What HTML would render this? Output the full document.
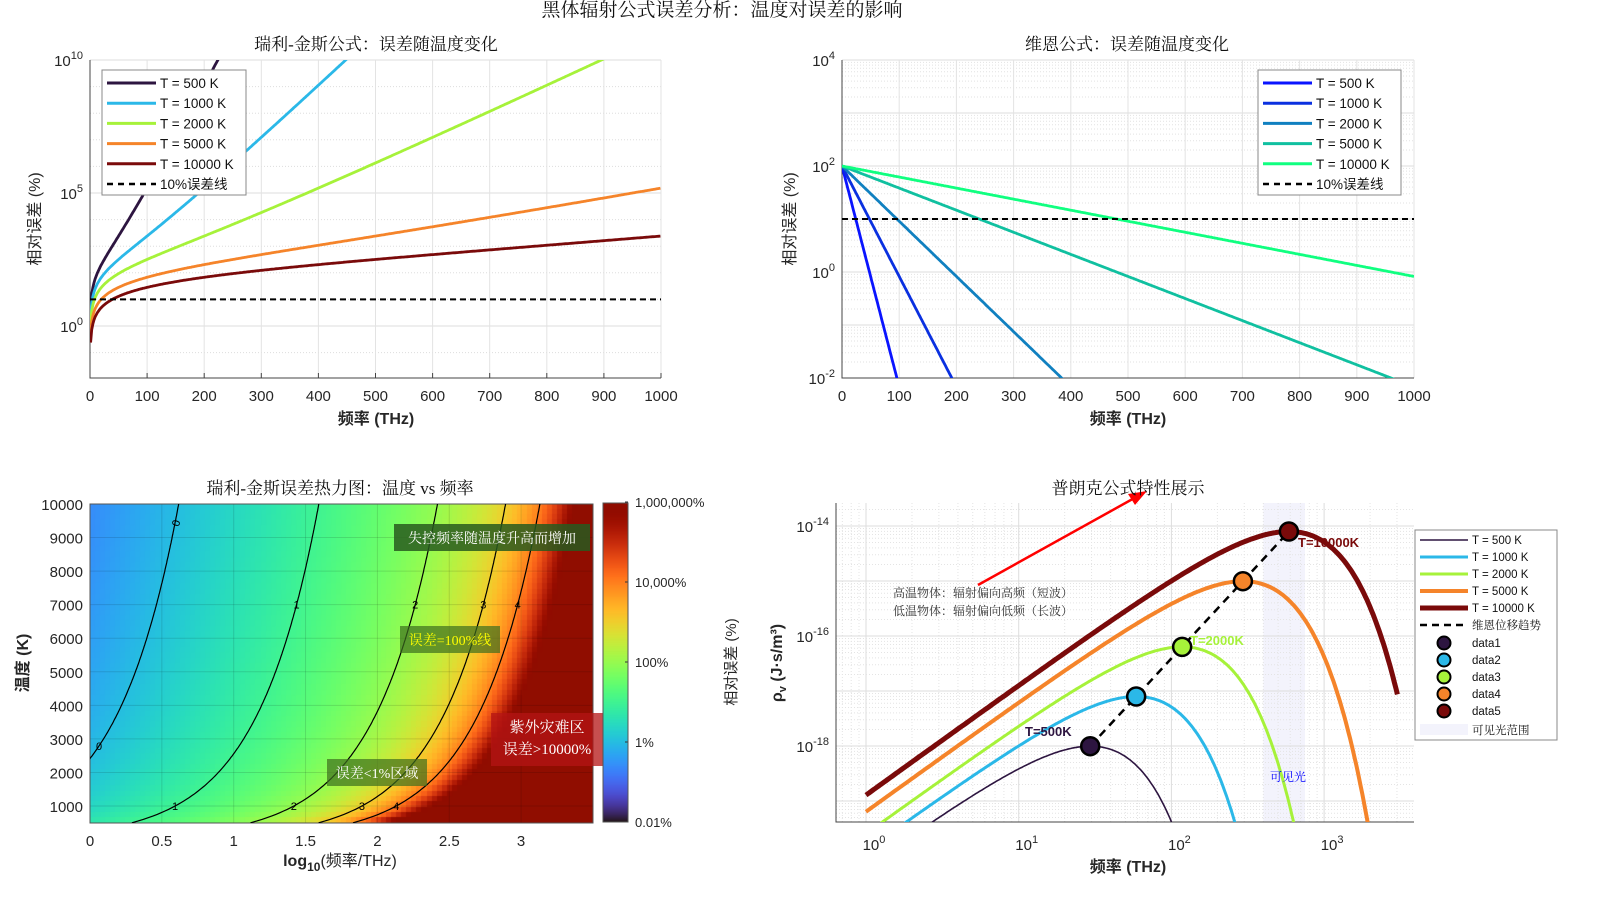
<!DOCTYPE html>
<html><head><meta charset="utf-8">
<style>
html,body{margin:0;padding:0;background:#fff;width:1605px;height:915px;overflow:hidden;}
#root{position:absolute;left:0;top:0;width:1605px;height:915px;overflow:hidden;font-family:"Liberation Sans","Noto Sans CJK SC",sans-serif;}
#hm{position:absolute;left:90px;top:504px;display:block;}
#cb{position:absolute;left:603px;top:503px;display:block;}
#s{position:absolute;left:0;top:0;display:block;overflow:hidden;}
text{font-family:"Liberation Sans","Noto Sans CJK SC",sans-serif;}
.serif{font-family:"Liberation Serif","Noto Serif CJK SC",serif;}
</style></head>
<body>
<div id="root">
<canvas id="hm" width="503" height="319"></canvas>
<canvas id="cb" width="25" height="319"></canvas>
<svg id="s" width="1605" height="915" viewBox="0 0 1605 915" xmlns="http://www.w3.org/2000/svg"></svg>
</div>
<script>
// ===== data =====
const temps = [500, 1000, 2000, 5000, 10000];
const tempLabels = ['T = 500 K','T = 1000 K','T = 2000 K','T = 5000 K','T = 10000 K'];
const rjColors = ['#2d1540','#2bb8e8','#a6f23a','#f5842a','#7a0a0a'];
const wienColors = ['#0a14ff','#0a30e0','#1080c0','#10c0a0','#10ff80'];
const refErrorPct = [10];
const contourLevels = [0,1,2,3,4];
const tlXTicks = [0,100,200,300,400,500,600,700,800,900,1000];
const tlYTicks = [0,5,10];
const trYTicks = [-2,0,2,4];
const blXTicks = [0,0.5,1,1.5,2,2.5,3];
const blYTicks = [1000,2000,3000,4000,5000,6000,7000,8000,9000,10000];
const cbTicks = [-2,0,2,4,6];
const cbLabels = ['0.01%','1%','100%','10,000%','1,000,000%'];
const brXTicks = [0,1,2,3];
const brYTicks = [-18,-16,-14];
const visibleBand = [400, 750];

const h=6.626e-34, kB=1.381e-23, c=3e8;
const xOf=(nuTHz,T)=>h*nuTHz*1e12/(kB*T);
const rjErr=(x)=>100*(Math.expm1(x)/x-1);
const wienErr=(x)=>100*Math.exp(-x);
const planck=(nuTHz,T)=>{const n=nuTHz*1e12;return 8*Math.PI*h*n*n*n/(c*c*c)/Math.expm1(h*n/(kB*T));};

const S=document.getElementById('s');
const NS='http://www.w3.org/2000/svg';
function mk(tag,at,parent){const e=document.createElementNS(NS,tag);for(const k in at)e.setAttribute(k,at[k]);(parent||S).appendChild(e);return e;}
function txt(x,y,s,at,parent){const e=mk('text',Object.assign({x:x,y:y},at||{}),parent);e.textContent=s;return e;}
function pow10(x,y,exp,anchor,size){const t=mk('text',{x:x,y:y,'font-size':size||15,'text-anchor':anchor||'end',fill:'#262626'});
 const a=document.createElementNS(NS,'tspan');a.textContent='10';t.appendChild(a);
 const b=document.createElementNS(NS,'tspan');b.setAttribute('dy','-7');b.setAttribute('font-size','11');b.textContent=exp;t.appendChild(b);return t;}
function path(pts){return pts.map((p,i)=>(i?'L':'M')+p[0].toFixed(1)+','+p[1].toFixed(1)).join('');}

let e;
e=txt(722,16,'黑体辐射公式误差分析：温度对误差的影响',{'text-anchor':'middle','font-size':19,fill:'#111',class:'serif'});



// ===== Top-left: Rayleigh-Jeans =====
const tlX=v=>90+v*0.571, tlY=l=>326-l*26.6;
let clip=mk('clipPath',{id:'ctl'});mk('rect',{x:90,y:60,width:571,height:318},clip);
for(let d=-1;d<=10;d++){e=mk('line',{x1:90,x2:661,y1:tlY(d),y2:tlY(d),stroke:'#ddd','stroke-width':1,'stroke-dasharray':tlYTicks.includes(d)?'':'1,2'});}
tlXTicks.forEach(v=>{e=mk('line',{x1:tlX(v),x2:tlX(v),y1:60,y2:378,stroke:'#e3e3e3'});
 e=txt(tlX(v),401,String(v),{'text-anchor':'middle','font-size':15,fill:'#262626'});
 e=mk('line',{x1:tlX(v),x2:tlX(v),y1:378,y2:373,stroke:'#444'});});
tlYTicks.forEach(l=>{e=pow10(83,tlY(l)+6,String(l));});
e=mk('path',{d:'M90,60V378H661',fill:'none',stroke:'#444'});
const tlG=mk('g',{'clip-path':'url(#ctl)'});
temps.forEach((T,i)=>{const pts=[];for(let v=1;v<=1000;v+=2){const yy=tlY(Math.log10(rjErr(xOf(v,T))));pts.push([tlX(v),yy]);if(yy<50)break;}
 e=mk('path',{d:path(pts),fill:'none',stroke:rjColors[i],'stroke-width':2.8},tlG);});
e=mk('line',{x1:90,x2:661,y1:tlY(Math.log10(refErrorPct[0])),y2:tlY(Math.log10(refErrorPct[0])),stroke:'#000','stroke-width':2,'stroke-dasharray':'6,4'},tlG);
e=txt(376,50,'瑞利-金斯公式：误差随温度变化',{'text-anchor':'middle','font-size':17,fill:'#111',class:'serif'});
e=txt(376,424,'频率 (THz)',{'text-anchor':'middle','font-size':16,fill:'#262626','font-weight':'bold'});
e=txt(0,0,'相对误差 (%)',{'text-anchor':'middle','font-size':16,fill:'#262626',transform:'translate(40,219) rotate(-90)'});
function legend(x,y,w,labels,colors,lastLabel,name,lw){
 const g=mk('g',{});
 mk('rect',{x:x,y:y,width:w,height:125,fill:'#fff',stroke:'#888'},g);
 labels.forEach((s,i)=>{const yy=y+13+i*20.2;mk('line',{x1:x+5,x2:x+54,y1:yy,y2:yy,stroke:colors[i],'stroke-width':lw||3},g);
  txt(x+58,yy+5,s,{'font-size':13.5,fill:'#111'},g);});
 const yy=y+13+5*20.2;mk('line',{x1:x+5,x2:x+54,y1:yy,y2:yy,stroke:'#000','stroke-width':2.5,'stroke-dasharray':'6,5'},g);
 txt(x+58,yy+5,lastLabel,{'font-size':13.5,fill:'#111'},g);return g;}
legend(102,70,144,tempLabels,rjColors,'10%误差线','tl-legend');

// ===== Top-right: Wien =====
const trX=v=>842+v*0.572, trY=l=>272-l*53;
clip=mk('clipPath',{id:'ctr'});mk('rect',{x:842,y:60,width:572,height:318},clip);
for(let d=-2;d<4;d++)for(let k=1;k<10;k++){const yy=trY(d+Math.log10(k));e=mk('line',{x1:842,x2:1414,y1:yy,y2:yy,stroke:k==1?'#ddd':'#e2e2e2','stroke-dasharray':k==1?'':'1,2'});}
e=mk('line',{x1:842,x2:1414,y1:60,y2:60,stroke:'#ddd'});
tlXTicks.forEach(v=>{e=mk('line',{x1:trX(v),x2:trX(v),y1:60,y2:378,stroke:'#e3e3e3'});
 e=txt(trX(v),401,String(v),{'text-anchor':'middle','font-size':15,fill:'#262626'});});
trYTicks.forEach(l=>{e=pow10(835,trY(l)+6,String(l));});
e=mk('path',{d:'M842,60V378H1414',fill:'none',stroke:'#444'});
const trG=mk('g',{'clip-path':'url(#ctr)'});
temps.forEach((T,i)=>{const pts=[];for(let v=0;v<=1000;v+=2){const l=Math.log10(wienErr(xOf(v,T)));pts.push([trX(v),trY(l)]);if(trY(l)>390)break;}
 e=mk('path',{d:path(pts),fill:'none',stroke:wienColors[i],'stroke-width':2.8},trG);});
e=mk('line',{x1:842,x2:1414,y1:trY(Math.log10(refErrorPct[0])),y2:trY(Math.log10(refErrorPct[0])),stroke:'#000','stroke-width':2,'stroke-dasharray':'6,4'},trG);
e=txt(1127,50,'维恩公式：误差随温度变化',{'text-anchor':'middle','font-size':17,fill:'#111',class:'serif'});
e=txt(1128,424,'频率 (THz)',{'text-anchor':'middle','font-size':16,fill:'#262626','font-weight':'bold'});
e=txt(0,0,'相对误差 (%)',{'text-anchor':'middle','font-size':16,fill:'#262626',transform:'translate(795,219) rotate(-90)'});
legend(1258,70,143,tempLabels,wienColors,'10%误差线','tr-legend');

// ===== Bottom-left: heatmap =====
function turbo(t){t=Math.max(0,Math.min(1,t));
 const r=0.13572138+t*(4.61539260+t*(-42.66032258+t*(132.13108234+t*(-152.94239396+t*59.28637943))));
 const g=0.09140261+t*(2.19418839+t*(4.84296658+t*(-14.18503333+t*(4.27729857+t*2.82956604))));
 const b=0.10667330+t*(12.64194608+t*(-60.58204836+t*(110.36276771+t*(-89.90310912+t*27.34824973))));
 return 'rgb('+[r,g,b].map(v=>Math.round(Math.max(0,Math.min(1,v))*255)).join(',')+')';}
const blX=l=>90+l*143.7, blY=T=>806-(T-1000)*0.03356;
(function(){const cv=document.getElementById('hm').getContext('2d');const W=503,H=319,nx=100,ny=60;
 for(let i=0;i<nx;i++)for(let j=0;j<ny;j++){const l=3.5*(i+0.5)/nx;const T=10000-(9500)*(j+0.5)/ny;
  const v=Math.log10(rjErr(xOf(Math.pow(10,l),T)));cv.fillStyle=turbo((v+2)/8);
  cv.fillRect(Math.floor(i*W/nx),Math.floor(j*H/ny),Math.ceil(W/nx)+1,Math.ceil(H/ny)+1);}
 const cb=document.getElementById('cb').getContext('2d');for(let y=0;y<319;y++){cb.fillStyle=turbo(1-y/318);cb.fillRect(0,y,25,1);}})();
blXTicks.forEach(l=>{e=mk('line',{x1:blX(l),x2:blX(l),y1:504,y2:823,stroke:'rgba(0,0,0,0.12)'});
 e=txt(blX(l),846,String(l),{'text-anchor':'middle','font-size':15,fill:'#262626'});});
blYTicks.forEach(T=>{e=mk('line',{x1:90,x2:593,y1:blY(T),y2:blY(T),stroke:'rgba(0,0,0,0.12)'});
 e=txt(83,blY(T)+6,String(T),{'text-anchor':'end','font-size':15,fill:'#262626'});});
e=mk('rect',{x:90,y:504,width:503,height:319,fill:'none',stroke:'#555'});
function solveX(target){let a=1e-6,b=60;for(let k=0;k<80;k++){const m=(a+b)/2;if(rjErr(m)<target)a=m;else b=m;}return (a+b)/2;}
const clG=mk('g',{});clip=mk('clipPath',{id:'cbl'});mk('rect',{x:90,y:504,width:503,height:319},clip);clG.setAttribute('clip-path','url(#cbl)');
contourLevels.forEach(k=>{const xk=solveX(Math.pow(10,k));const pts=[];
 for(let T=500;T<=10000;T+=50){const nu=xk*kB*T/h/1e12;pts.push([blX(Math.log10(nu)),blY(T)]);}
 e=mk('path',{d:path(pts),fill:'none',stroke:'#000','stroke-width':1.2},clG);
 if(k>0)[1000,7000].forEach(T=>{const nu=xk*kB*T/h/1e12;const X=blX(Math.log10(nu));if(X>90&&X<593){e=txt(X,blY(T)+4,String(k),{'text-anchor':'middle','font-size':11,fill:'#000'},clG);}});});
e=txt(175,530,'0',{'font-size':11,transform:'rotate(-75 175 526)'});
e=txt(96,750,'0',{'font-size':11});
function box(x,y,w,hh,fill,lines,color,name,fs){const g=mk('g',{});
 mk('rect',{x:x,y:y,width:w,height:hh,fill:fill},g);lines.forEach((s,i)=>txt(x+w/2,y+19+i*22,s,{'text-anchor':'middle','font-size':fs||14,fill:color,class:'serif'},g));}
box(394,524,196,27,'rgba(40,90,30,0.85)',['失控频率随温度升高而增加'],'#fff','annotation-runaway');
box(400,626,100,27,'rgba(60,110,30,0.7)',['误差=100%线'],'#ff0','annotation-100pct');
box(327,759,100,27,'rgba(60,110,30,0.7)',['误差<1%区域'],'#fff','annotation-1pct');
box(491,713,112,53,'rgba(180,20,20,0.75)',['紫外灾难区','误差>10000%'],'#fff','annotation-uv',15);
cbTicks.forEach((l,i)=>{const yy=822-(l+2)*40;e=txt(635,yy+5,cbLabels[i],{'font-size':13,fill:'#262626'});
 e=mk('line',{x1:625,x2:628,y1:yy,y2:yy,stroke:'#333'});});
e=mk('rect',{x:603,y:503,width:25,height:319,fill:'none',stroke:'#555'});
e=txt(0,0,'相对误差 (%)',{'text-anchor':'middle','font-size':15,fill:'#262626',transform:'translate(736,662) rotate(-90)'});
e=txt(340,494,'瑞利-金斯误差热力图：温度 vs 频率',{'text-anchor':'middle','font-size':17,fill:'#111',class:'serif'});
e=mk('text',{x:340,y:866,'text-anchor':'middle','font-size':16,fill:'#262626','font-weight':'bold'});e.innerHTML='log<tspan dy="5" font-size="12">10</tspan><tspan dy="-5" font-weight="normal">(频率/THz)</tspan>';
e=txt(0,0,'温度 (K)',{'text-anchor':'middle','font-size':16,fill:'#262626','font-weight':'bold',transform:'translate(28,663) rotate(-90)'});

// ===== Bottom-right: Planck =====
const brX=l=>866+l*152.7, brY=l=>526-(l+14)*55;
const BX0=836,BX1=1414,BY0=503,BY1=822;
e=mk('rect',{x:brX(Math.log10(visibleBand[0])),y:BY0,width:brX(Math.log10(visibleBand[1]))-brX(Math.log10(visibleBand[0])),height:BY1-BY0,fill:'#f3f3fc'});
for(let d=-1;d<4;d++)for(let k=1;k<10;k++){const X=brX(d+Math.log10(k));if(X<BX0||X>BX1)continue;e=mk('line',{x1:X,x2:X,y1:BY0,y2:BY1,stroke:k==1?'#ddd':'#e4e4e4','stroke-dasharray':k==1?'':'1,2'});}
for(let d=-20;d<-13;d++)for(let k=1;k<10;k++){const Y=brY(d+Math.log10(k));if(Y<BY0||Y>BY1)continue;e=mk('line',{x1:BX0,x2:BX1,y1:Y,y2:Y,stroke:k==1?'#ddd':'#e4e4e4','stroke-dasharray':k==1?'':'1,2'});}
e=mk('path',{d:'M'+BX0+','+BY0+'V'+BY1+'H'+BX1,fill:'none',stroke:'#444'});
brXTicks.forEach(l=>{e=pow10(brX(l)+8,850,String(l),'middle');});
brYTicks.forEach(l=>{e=pow10(829,brY(l)+6,String(l));});
clip=mk('clipPath',{id:'cbr'});mk('rect',{x:BX0,y:BY0,width:BX1-BX0,height:BY1-BY0},clip);
const brG=mk('g',{'clip-path':'url(#cbr)'});
const brW=[1.6,3,3,4,5];
temps.forEach((T,i)=>{const pts=[];for(let l=0;l<=3.48;l+=0.01){pts.push([brX(l),brY(Math.log10(planck(Math.pow(10,l),T)))]);}
 e=mk('path',{d:path(pts),fill:'none',stroke:rjColors[i],'stroke-width':brW[i]},brG);});
const peaks=temps.map(T=>{const nu=2.821*kB*T/h/1e12;return [brX(Math.log10(nu)),brY(Math.log10(planck(nu,T)))];});
e=mk('path',{d:path(peaks),fill:'none',stroke:'#000','stroke-width':2.5,'stroke-dasharray':'8,6'});
peaks.forEach((p,i)=>{e=mk('circle',{cx:p[0],cy:p[1],r:9,fill:rjColors[i],stroke:'#000','stroke-width':2.5});});
e=txt(1025,736,'T=500K',{'font-size':13,'font-weight':'bold',fill:'#2d1540'});
e=txt(1190,645,'T=2000K',{'font-size':13,'font-weight':'bold',fill:'#a6f23a'});
e=txt(1298,547,'T=10000K',{'font-size':13,'font-weight':'bold',fill:'#7a0a0a'});
e=txt(1270,781,'可见光',{'font-size':12,fill:'#0000ff',class:'serif'});
e=mk('line',{x1:978,y1:585,x2:1138,y2:496,stroke:'#f00','stroke-width':2.5});
e=mk('polygon',{points:'1147,491 1128,494 1135,505',fill:'#f00'});
e=txt(893,597,'高温物体：辐射偏向高频（短波）',{'font-size':12,fill:'#333',class:'serif'});
e=txt(893,615,'低温物体：辐射偏向低频（长波）',{'font-size':12,fill:'#333',class:'serif'});
e=txt(1128,494,'普朗克公式特性展示',{'text-anchor':'middle','font-size':17,fill:'#111',class:'serif'});
e=txt(1128,872,'频率 (THz)',{'text-anchor':'middle','font-size':16,fill:'#262626','font-weight':'bold'});
e=mk('text',{x:0,y:0,'text-anchor':'middle','font-size':16,fill:'#262626','font-weight':'bold',transform:'translate(782,663) rotate(-90)'});e.innerHTML='ρ<tspan dy="4" font-size="11">v</tspan><tspan dy="-4"> (J·s/m³)</tspan>';
(function(){const g=mk('g',{});
 mk('rect',{x:1415,y:530,width:142,height:210,fill:'#fff',stroke:'#888'},g);
 temps.forEach((T,i)=>{const yy=540+i*17;mk('line',{x1:1420,x2:1468,y1:yy,y2:yy,stroke:rjColors[i],'stroke-width':brW[i]},g);txt(1472,yy+4,tempLabels[i],{'font-size':11.5,fill:'#111'},g);});
 mk('line',{x1:1420,x2:1468,y1:625,y2:625,stroke:'#000','stroke-width':2.5,'stroke-dasharray':'7,5'},g);txt(1472,629,'维恩位移趋势',{'font-size':11.5,fill:'#111',class:'serif'},g);
 temps.forEach((T,i)=>{const yy=643+i*17;mk('circle',{cx:1444,cy:yy,r:6.5,fill:rjColors[i],stroke:'#000','stroke-width':2},g);txt(1472,yy+4,'data'+(i+1),{'font-size':11.5,fill:'#111'},g);});
 mk('rect',{x:1420,y:724,width:48,height:11,fill:'#f3f3fc'},g);txt(1472,734,'可见光范围',{'font-size':11.5,fill:'#111',class:'serif'},g);})();
</script>
</body></html>
